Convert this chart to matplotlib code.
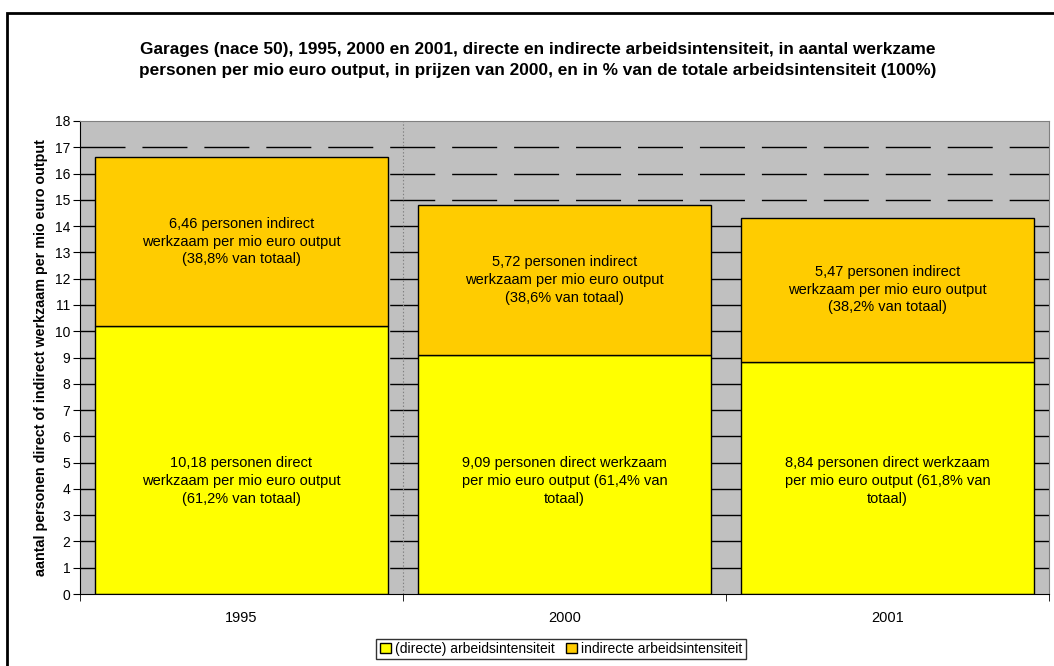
import numpy as np
import matplotlib.pyplot as plt
from matplotlib.patches import Rectangle, Patch

plt.rcParams["font.family"] = ["Liberation Sans", "DejaVu Sans"]
plt.rcParams["lines.scale_dashes"] = False

years = ["1995", "2000", "2001"]
direct = [10.18, 9.09, 8.84]
indirect = [6.46, 5.72, 5.47]
direct_labels = [
	"10,18 personen direct\nwerkzaam per mio euro output\n(61,2% van totaal)",
	"9,09 personen direct werkzaam\nper mio euro output (61,4% van\ntotaal)",
	"8,84 personen direct werkzaam\nper mio euro output (61,8% van\ntotaal)",
]
indirect_labels = [
	"6,46 personen indirect\nwerkzaam per mio euro output\n(38,8% van totaal)",
	"5,72 personen indirect\nwerkzaam per mio euro output\n(38,6% van totaal)",
	"5,47 personen indirect\nwerkzaam per mio euro output\n(38,2% van totaal)",
]

fig = plt.figure(figsize=(10.54, 6.66), dpi=100)
fig.patches.append(Rectangle((7 / 1054, -0.05), 1.1, (666 - 13) / 666 + 0.05,
	transform=fig.transFigure, fill=False, edgecolor="black", linewidth=2))

ax = fig.add_axes([80 / 1054, 72 / 666, 969 / 1054, 473 / 666])
ax.set_facecolor("#C0C0C0")

x = np.arange(len(years))
ax.set_xlim(-0.5, 2.5)
ax.set_ylim(0, 18)

# dashed gridlines
for yv in range(1, 18):
	ax.axhline(yv, color="black", linewidth=1, linestyle=(0, (32.4, 12.2)), zorder=1)
ax.axvline(0.5, color="#808080", linewidth=0.8, linestyle=(0, (1, 1.5)), zorder=1)

ax.bar(x, direct, width=0.91, color="#FFFF00", edgecolor="black", linewidth=1, zorder=2,
	label="(directe) arbeidsintensiteit")
ax.bar(x, indirect, width=0.91, bottom=direct, color="#FFCC00", edgecolor="black", linewidth=1,
	zorder=2, label="indirecte arbeidsintensiteit")

for i in range(len(years)):
	ax.text(x[i], 4.3, direct_labels[i], ha="center", va="center", fontsize=10.5, zorder=3,
		linespacing=1.33)
	ax.text(x[i], direct[i] + indirect[i] / 2, indirect_labels[i], ha="center", va="center",
		fontsize=10.5, zorder=3, linespacing=1.33)

ax.set_yticks(range(0, 19))
ax.set_xticks(x)
ax.set_xticklabels(years, fontsize=10.5)
ax.set_xticks([-0.5, 0.5, 1.5, 2.5], minor=True)
ax.tick_params(axis="x", which="major", length=0, pad=12)
ax.tick_params(axis="x", which="minor", length=5, direction="out", color="black")
ax.tick_params(axis="y", length=5, direction="out", labelsize=10, pad=2)

for s in ["top", "right"]:
	ax.spines[s].set_color("#808080")
for s in ["left", "bottom"]:
	ax.spines[s].set_color("black")

ax.set_ylabel("aantal personen direct of indirect werkzaam per mio euro output",
	fontsize=10.3, fontweight="bold", labelpad=5)

fig.text(538 / 1054, 1 - 60 / 666, "Garages (nace 50), 1995, 2000 en 2001, directe en indirecte arbeidsintensiteit, in aantal werkzame\n"
	"personen per mio euro output, in prijzen van 2000, en in % van de totale arbeidsintensiteit (100%)",
	ha="center", va="center", fontsize=12.4, fontweight="bold", linespacing=1.55)

handles = [Patch(facecolor="#FFFF00", edgecolor="black"), Patch(facecolor="#FFCC00", edgecolor="black")]
leg = fig.legend(handles, ["(directe) arbeidsintensiteit", "indirecte arbeidsintensiteit"],
	loc="center", bbox_to_anchor=(561 / 1054, 1 - 649 / 666), ncol=2, fontsize=10,
	frameon=True, fancybox=False, edgecolor="black", handlelength=0.8, handleheight=0.8,
	handletextpad=0.3, columnspacing=0.8, borderpad=0.25, borderaxespad=0)
leg.get_frame().set_linewidth(1)

fig.savefig("out.png", dpi=100)
